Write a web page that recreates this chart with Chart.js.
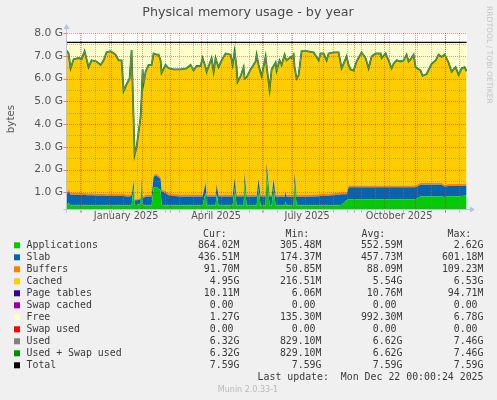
<!DOCTYPE html>
<html>
<head>
<meta charset="utf-8">
<script src="https://cdn.jsdelivr.net/npm/chart.js@4/dist/chart.umd.min.js"></script>
<style>
  html, body { margin: 0; padding: 0; background: #f0f0f0; }
  canvas { display: block; }
</style>
</head>
<body>
<canvas id="memChart" width="497" height="400"></canvas>
<script>
// days counted from 1 Jan 2025, values in G
const days = [
  -44, -42, -40, -37, -32, -29, -26, -22, -19, -14,
  -10, -7, -4, 0, 5, 8, 11, 13, 16, 19,
  21, 23, 24, 26, 30, 31, 32, 33, 35, 38,
  41, 43, 46, 48, 50, 51, 55, 58, 63, 70,
  76, 80, 83, 86, 90, 92, 95, 96, 101, 103,
  105, 106, 108, 111, 115, 120, 122, 124, 126, 127,
  130, 133, 134, 136, 140, 145, 146, 148, 150, 151,
  155, 156, 159, 161, 163, 165, 166, 169, 171, 174,
  175, 176, 180, 181, 183, 184, 186, 188, 191, 196,
  203, 208, 210, 213, 216, 218, 223, 228, 231, 236,
  238, 240, 243, 246, 251, 255, 258, 261, 265, 270,
  271, 275, 278, 281, 283, 286, 290, 293, 296, 298,
  300, 303, 305, 310, 312, 316, 321, 325, 328, 331,
  334, 338, 341, 345, 348, 351, 354, 356
];

const used = [
  7.23, 7.10, 6.45, 6.85, 6.90, 6.85, 7.20, 6.50, 6.80, 6.75,
  6.60, 6.80, 7.15, 7.20, 7.05, 6.80, 6.80, 5.45, 5.75, 6.00,
  7.25, 4.20, 2.65, 3.00, 4.30, 5.20, 6.40, 5.80, 6.30, 6.60,
  6.60, 7.10, 7.05, 7.05, 6.80, 6.25, 6.60, 6.45, 6.40, 6.40,
  6.45, 6.60, 6.35, 6.55, 6.55, 6.90, 6.50, 6.30, 6.90, 6.30,
  6.90, 6.75, 6.50, 6.80, 7.10, 7.05, 6.60, 7.20, 6.50, 5.85,
  6.10, 6.50, 6.00, 6.05, 6.40, 6.75, 7.05, 6.60, 6.24, 6.10,
  6.97, 6.55, 5.50, 6.40, 6.55, 6.70, 6.35, 6.80, 6.60, 7.05,
  6.90, 6.80, 6.95, 6.90, 7.05, 6.50, 6.00, 6.15, 7.20, 7.20,
  7.15, 6.80, 7.10, 7.10, 6.80, 7.10, 7.15, 7.15, 6.45, 6.97,
  6.60, 6.40, 6.35, 6.75, 7.15, 6.90, 6.45, 6.97, 7.10, 7.10,
  6.90, 7.10, 6.80, 6.45, 6.65, 6.80, 6.75, 6.80, 7.05, 6.75,
  6.85, 7.05, 6.50, 6.35, 6.12, 6.20, 6.65, 6.80, 7.05, 6.95,
  7.05, 6.70, 6.30, 6.50, 6.17, 6.45, 6.50, 6.32
];

const applications = [
  0.42, 0.55, 0.42, 0.42, 0.42, 0.42, 0.42, 0.42, 0.42, 0.42,
  0.42, 0.42, 0.42, 0.42, 0.42, 0.42, 0.42, 0.42, 0.42, 0.42,
  0.45, 1.20, 0.45, 0.45, 0.50, 1.40, 0.45, 0.42, 0.42, 0.42,
  0.42, 1.20, 1.25, 1.15, 1.10, 0.45, 0.42, 0.42, 0.42, 0.42,
  0.42, 0.42, 0.42, 0.42, 0.42, 0.42, 1.00, 0.42, 0.42, 0.42,
  0.42, 0.95, 0.42, 0.42, 0.42, 0.42, 0.42, 1.20, 0.42, 0.42,
  0.42, 0.42, 1.45, 0.42, 0.42, 0.42, 0.42, 1.19, 0.42, 0.42,
  0.42, 1.90, 0.42, 0.42, 1.19, 0.42, 0.42, 0.42, 0.42, 0.42,
  0.60, 0.42, 0.42, 0.42, 0.42, 1.48, 0.42, 0.42, 0.42, 0.42,
  0.42, 0.42, 0.42, 0.42, 0.42, 0.42, 0.42, 0.43, 0.45, 0.65,
  0.70, 0.70, 0.70, 0.70, 0.70, 0.70, 0.70, 0.70, 0.70, 0.70,
  0.70, 0.70, 0.70, 0.70, 0.70, 0.70, 0.70, 0.70, 0.70, 0.70,
  0.70, 0.70, 0.70, 0.82, 0.82, 0.82, 0.82, 0.82, 0.82, 0.82,
  0.80, 0.83, 0.83, 0.83, 0.83, 0.84, 0.85, 0.86
];

const slab = [
  0.48, 0.48, 0.48, 0.47, 0.47, 0.46, 0.46, 0.45, 0.45, 0.44,
  0.44, 0.44, 0.43, 0.43, 0.42, 0.42, 0.42, 0.42, 0.40, 0.40,
  0.40, 0.30, 0.20, 0.20, 0.20, 0.20, 0.30, 0.35, 0.38, 0.40,
  0.40, 0.50, 0.48, 0.50, 0.50, 0.60, 0.55, 0.45, 0.42, 0.40,
  0.40, 0.40, 0.40, 0.40, 0.40, 0.40, 0.40, 0.40, 0.40, 0.40,
  0.40, 0.40, 0.40, 0.40, 0.40, 0.40, 0.40, 0.40, 0.40, 0.40,
  0.40, 0.40, 0.40, 0.40, 0.40, 0.40, 0.40, 0.40, 0.40, 0.40,
  0.40, 0.40, 0.40, 0.40, 0.40, 0.40, 0.40, 0.39, 0.39, 0.39,
  0.39, 0.39, 0.38, 0.38, 0.38, 0.38, 0.38, 0.38, 0.39, 0.39,
  0.40, 0.41, 0.42, 0.42, 0.43, 0.44, 0.45, 0.47, 0.47, 0.27,
  0.52, 0.52, 0.52, 0.52, 0.52, 0.52, 0.52, 0.52, 0.52, 0.52,
  0.52, 0.52, 0.52, 0.52, 0.52, 0.52, 0.52, 0.52, 0.52, 0.52,
  0.52, 0.52, 0.52, 0.51, 0.51, 0.51, 0.51, 0.51, 0.51, 0.51,
  0.46, 0.45, 0.45, 0.45, 0.45, 0.45, 0.44, 0.44
];

const buffers = [
  0.09, 0.09, 0.09, 0.09, 0.09, 0.09, 0.09, 0.09, 0.09, 0.09,
  0.09, 0.09, 0.09, 0.09, 0.09, 0.09, 0.09, 0.09, 0.09, 0.09,
  0.09, 0.06, 0.05, 0.05, 0.05, 0.05, 0.06, 0.08, 0.09, 0.09,
  0.09, 0.09, 0.09, 0.09, 0.09, 0.09, 0.09, 0.09, 0.09, 0.09,
  0.09, 0.09, 0.09, 0.09, 0.09, 0.09, 0.09, 0.09, 0.09, 0.09,
  0.09, 0.09, 0.09, 0.09, 0.09, 0.09, 0.09, 0.09, 0.09, 0.09,
  0.09, 0.09, 0.09, 0.09, 0.09, 0.09, 0.09, 0.09, 0.09, 0.09,
  0.09, 0.09, 0.09, 0.09, 0.09, 0.09, 0.09, 0.09, 0.09, 0.09,
  0.09, 0.09, 0.09, 0.09, 0.09, 0.09, 0.09, 0.09, 0.09, 0.09,
  0.09, 0.09, 0.09, 0.09, 0.09, 0.09, 0.09, 0.09, 0.09, 0.09,
  0.08, 0.08, 0.08, 0.08, 0.08, 0.08, 0.08, 0.08, 0.08, 0.08,
  0.08, 0.08, 0.08, 0.08, 0.08, 0.08, 0.08, 0.08, 0.08, 0.08,
  0.08, 0.08, 0.08, 0.09, 0.09, 0.09, 0.09, 0.09, 0.09, 0.09,
  0.08, 0.09, 0.09, 0.09, 0.09, 0.09, 0.09, 0.09
];

const totalMemory = 7.59;

// axis labels
const yTicks = [1, 2, 3, 4, 5, 6, 7, 8];
const monthLabels = ['January 2025', 'April 2025', 'July 2025', 'October 2025'];
const monthLabelDays = [15.5, 105.5, 196.5, 288.5];

// legend table (text under the graph)
const legendNames = ['Applications', 'Slab', 'Buffers', 'Cached', 'Page tables', 'Swap cached',
  'Free', 'Swap used', 'Used', 'Used + Swap used', 'Total'];
const legendColors = ['#00cc00', '#0066b3', '#ff8000', '#ffcc00', '#330099', '#990099',
  '#ffffcc', '#ff0000', '#808080', '#008f00', '#000000'];
const curValues = ['864.02M', '436.51M', '91.70M', '4.95G', '10.11M', '0.00 ', '1.27G', '0.00 ', '6.32G', '6.32G', '7.59G'];
const minValues = ['305.48M', '174.37M', '50.85M', '216.51M', '6.06M', '0.00 ', '135.30M', '0.00 ', '829.10M', '829.10M', '7.59G'];
const avgValues = ['552.59M', '457.73M', '88.09M', '5.54G', '10.76M', '0.00 ', '992.30M', '0.00 ', '6.62G', '6.62G', '7.59G'];
const maxValues = ['2.62G', '601.18M', '109.23M', '6.53G', '94.71M', '0.00 ', '6.78G', '0.00 ', '7.46G', '7.46G', '7.59G'];

function toPoints(values) {
    return days.map(function(d, i) { return { x: d, y: values[i] }; });
}

const cachedValues = used.map(function(u, i) { return u - applications[i] - slab[i] - buffers[i]; });
const freeValues = used.map(function(u) { return totalMemory - u; });
const totalValues = days.map(function() { return totalMemory; });

function dayOf(year, month) {
    return (Date.UTC(year, month, 1) - Date.UTC(2025, 0, 1)) / 86400000;
}

const monthStarts = [];
for (let m = 10; m <= 23; m++) {
    monthStarts.push(dayOf(2024 + Math.floor(m / 12), m % 12));
}
const minorDays = [];
for (let d = -44; d <= 356; d += 14) {
    minorDays.push(d);
}

function area(label, values, color, fill) {
    return {
        label: label,
        data: toPoints(values),
        backgroundColor: color,
        borderWidth: 0,
        pointRadius: 0,
        fill: fill,
        stack: 'mem',
        order: 1
    };
}

function line(label, values, color, width, stack) {
    return {
        label: label,
        data: toPoints(values),
        borderColor: color,
        borderWidth: width,
        pointRadius: 0,
        fill: false,
        stack: stack,
        order: 0
    };
}

const rrdPlugin = {
    id: 'rrd',
    beforeDraw: function(chart) {
        const c = chart.ctx;
        const a = chart.chartArea;
        c.save();
        c.fillStyle = '#f0f0f0';
        c.fillRect(0, 0, chart.width, chart.height);
        c.fillStyle = '#ffffff';
        c.fillRect(a.left, a.top, a.right - a.left, a.bottom - a.top);
        c.restore();
    },
    afterDatasetDraw: function(chart, args) {
        if (args.index !== 0) return;
        const c = chart.ctx;
        const a = chart.chartArea;
        const xs = chart.scales.x;
        const ys = chart.scales.y;
        c.save();
        c.lineWidth = 1;
        c.setLineDash([1, 1]);
        // minor grid
        c.strokeStyle = 'rgba(130,130,130,0.5)';
        minorDays.forEach(function(d) {
            const px = Math.round(xs.getPixelForValue(d)) + 0.5;
            if (px <= a.left + 1 || px >= a.right) return;
            c.beginPath(); c.moveTo(px, a.top); c.lineTo(px, a.bottom); c.stroke();
        });
        for (let v = 0.5; v < 8; v += 1) {
            const py = Math.round(ys.getPixelForValue(v)) + 0.5;
            if (py >= a.bottom) continue;
            c.beginPath(); c.moveTo(a.left, py); c.lineTo(a.right, py); c.stroke();
        }
        // major grid
        c.strokeStyle = 'rgba(255,0,0,0.45)';
        monthStarts.forEach(function(d) {
            const px = Math.round(xs.getPixelForValue(d)) + 0.5;
            if (px <= a.left + 1 || px >= a.right) return;
            c.beginPath(); c.moveTo(px, a.top); c.lineTo(px, a.bottom); c.stroke();
        });
        yTicks.forEach(function(v) {
            const py = Math.round(ys.getPixelForValue(v)) + 0.5;
            c.beginPath(); c.moveTo(a.left, py); c.lineTo(a.right, py); c.stroke();
        });
        c.restore();
    },
    afterDraw: function(chart) {
        const c = chart.ctx;
        const a = chart.chartArea;
        const xs = chart.scales.x;
        const ys = chart.scales.y;
        c.save();

        // axes with arrows
        const axisColor = '#b8c0e4';
        const ax = Math.round(a.left) - 0.5;
        const ay = Math.round(a.bottom) + 0.5;
        c.strokeStyle = axisColor;
        c.lineWidth = 1;
        c.beginPath(); c.moveTo(ax, ay + 3); c.lineTo(ax, a.top - 5); c.stroke();
        c.beginPath(); c.moveTo(ax - 3, ay); c.lineTo(a.right + 4, ay); c.stroke();
        c.fillStyle = axisColor;
        c.beginPath(); c.moveTo(ax - 3, a.top - 4); c.lineTo(ax + 3, a.top - 4); c.lineTo(ax, a.top - 9); c.closePath(); c.fill();
        c.beginPath(); c.moveTo(a.right + 3, ay - 3); c.lineTo(a.right + 3, ay + 3); c.lineTo(a.right + 8, ay); c.closePath(); c.fill();

        // small tick marks
        c.strokeStyle = 'rgba(140,140,140,0.7)';
        minorDays.forEach(function(d) {
            const px = Math.round(xs.getPixelForValue(d)) + 0.5;
            if (px <= a.left + 1 || px >= a.right) return;
            c.beginPath(); c.moveTo(px, ay + 1); c.lineTo(px, ay + 3); c.stroke();
        });
        c.strokeStyle = 'rgba(255,0,0,0.5)';
        monthStarts.forEach(function(d) {
            const px = Math.round(xs.getPixelForValue(d)) + 0.5;
            if (px <= a.left + 1 || px >= a.right) return;
            c.beginPath(); c.moveTo(px, ay + 1); c.lineTo(px, ay + 3); c.stroke();
        });
        yTicks.forEach(function(v) {
            const py = Math.round(ys.getPixelForValue(v)) + 0.5;
            c.beginPath(); c.moveTo(ax - 3, py); c.lineTo(ax, py); c.stroke();
        });

        // title
        c.fillStyle = '#4a4a4a';
        c.textAlign = 'center';
        c.textBaseline = 'middle';
        c.font = '12.7px "DejaVu Sans"';
        c.fillText('Physical memory usage - by year', 248, 13);

        // vertical unit label
        c.save();
        c.translate(11, 119);
        c.rotate(-Math.PI / 2);
        c.font = '10.3px "DejaVu Sans"';
        c.fillStyle = '#555555';
        c.fillText('bytes', 0, 0);
        c.restore();

        // watermark
        c.save();
        c.translate(489, 6);
        c.rotate(Math.PI / 2);
        c.textAlign = 'left';
        c.font = '7.6px "DejaVu Sans"';
        c.fillStyle = '#c4c4c4';
        c.fillText('RRDTOOL / TOBI OETIKER', 0, 0);
        c.restore();

        // legend table
        c.font = '9.9px "DejaVu Sans Mono"';
        c.fillStyle = '#3a3a3a';
        c.textAlign = 'left';
        c.fillText('Cur:', 203, 234);
        c.fillText('Min:', 285.5, 234);
        c.fillText('Avg:', 361.5, 234);
        c.fillText('Max:', 447.5, 234);
        const colRight = [239.5, 321.5, 402.5, 483.5];
        const cols = [curValues, minValues, avgValues, maxValues];
        legendNames.forEach(function(name, i) {
            const y = 245.3 + i * 12;
            c.fillStyle = legendColors[i];
            c.fillRect(14, y - 3, 6, 6);
            c.fillStyle = '#3a3a3a';
            c.textAlign = 'left';
            c.fillText(name, 26.5, y);
            c.textAlign = 'right';
            cols.forEach(function(col, k) {
                c.fillText(col[i], colRight[k], y);
            });
        });
        c.textAlign = 'right';
        c.fillText('Last update:  Mon Dec 22 00:00:24 2025', 483.5, 377.3);

        c.textAlign = 'center';
        c.font = '8px "DejaVu Sans"';
        c.fillStyle = '#b8b8b8';
        c.fillText('Munin 2.0.33-1', 248, 389.5);
        c.restore();
    }
};

const ctx = document.getElementById('memChart');
const chart = new Chart(ctx, {
    type: 'line',
    data: {
        datasets: [
            area('Applications', applications, '#00cc00', 'origin'),
            area('Slab', slab, '#0066b3', '-1'),
            area('Buffers', buffers, '#ff8000', '-1'),
            area('Cached', cachedValues, '#ffcc00', '-1'),
            area('Free', freeValues, '#ffffcc', '-1'),
            line('Used', used, '#808080', 1, 'used'),
            line('Used + Swap used', used, '#008f00', 1.8, 'usedswap'),
            line('Total', totalValues, '#000000', 1.4, 'total')
        ]
    },
    options: {
        responsive: false,
        animation: false,
        layout: { padding: { left: 0, right: 30, top: 33, bottom: 0 } },
        plugins: {
            legend: { display: false },
            tooltip: { enabled: false }
        },
        elements: { line: { tension: 0 } },
        scales: {
            x: {
                type: 'linear',
                min: -43.6,
                max: 356.4,
                grid: { display: false, drawTicks: false },
                border: { display: false },
                afterBuildTicks: function(scale) {
                    scale.ticks = monthLabelDays.map(function(v) { return { value: v }; });
                },
                afterFit: function(scale) { scale.height = 191; },
                ticks: {
                    autoSkip: false,
                    maxRotation: 0,
                    padding: 2,
                    color: '#555555',
                    font: { family: 'DejaVu Sans', size: 9.7 },
                    callback: function(value, index) { return monthLabels[index]; }
                }
            },
            y: {
                stacked: true,
                min: 0.27,
                max: 8.0,
                grid: { display: false, drawTicks: false },
                border: { display: false },
                afterBuildTicks: function(scale) {
                    scale.ticks = yTicks.map(function(v) { return { value: v }; });
                },
                afterFit: function(scale) { scale.width = 67; },
                ticks: {
                    padding: 4,
                    color: '#555555',
                    font: { family: 'DejaVu Sans', size: 10.7 },
                    callback: function(value) { return value.toFixed(1) + ' G'; }
                }
            }
        }
    },
    plugins: [rrdPlugin]
});
</script>
</body>
</html>
